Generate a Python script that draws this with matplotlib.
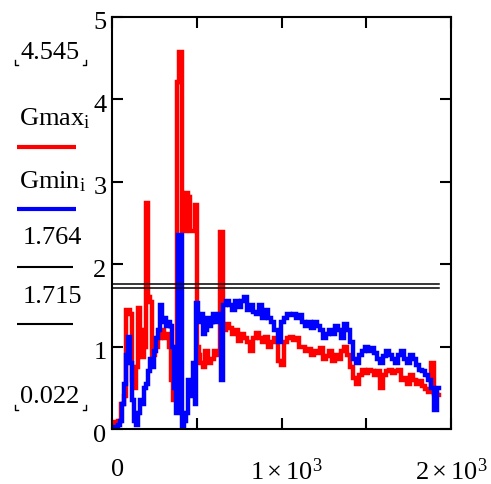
import numpy as np
import matplotlib
matplotlib.use("Agg")
import matplotlib.pyplot as plt
from matplotlib.lines import Line2D
import matplotlib.transforms as mtrans

plt.rcParams['font.family'] = ['Liberation Serif', 'DejaVu Serif']
plt.rcParams['mathtext.fontset'] = 'custom'
plt.rcParams['mathtext.rm'] = 'Liberation Serif'
plt.rcParams['mathtext.it'] = 'Liberation Serif:italic'

# ---------------- data (index i vs value) ----------------
# early, irregular part
gmax_idx_early = [0, 24, 47, 59, 77, 89, 101, 113, 125, 136, 148, 160, 172, 184, 196, 208, 220,
                  231, 243, 261, 279, 297, 315, 332, 344, 356, 368, 380, 386, 404, 427, 445,
                  457, 469, 481, 493, 505, 516, 528, 540, 558, 576, 593, 611, 629, 647]
gmax_val_early = [0.07, 0.08, 0.10, 0.30, 0.40, 1.44, 1.44, 1.40, 0.60, 0.50, 0.75, 1.47, 1.20,
                  0.87, 1.00, 2.74, 1.60, 1.54, 0.90, 1.00, 1.10, 1.20, 1.10, 1.15, 1.00, 0.60,
                  0.35, 0.80, 4.21, 4.57, 2.40, 2.86, 2.82, 2.40, 2.40, 2.72, 1.00, 0.90, 0.80,
                  0.75, 0.95, 0.80, 0.85, 0.95, 0.90, 2.39]

gmin_idx_early = [0, 24, 42, 53, 65, 77, 89, 101, 113, 125, 136, 148, 160, 172, 184, 196, 208,
                  220, 231, 243, 255, 267, 279, 291, 303, 315, 326, 338, 350, 362, 374, 386,
                  398, 410, 421, 433, 445, 457, 469, 481, 493, 504, 516, 528, 540, 552, 564,
                  576, 588, 599, 611, 623, 635, 647]
gmin_val_early = [0.02, 0.03, 0.05, 0.10, 0.30, 0.55, 0.90, 1.12, 0.80, 0.35, 0.10, 0.05, 0.20,
                  0.35, 0.30, 0.50, 0.55, 0.70, 0.85, 0.75, 0.95, 1.10, 1.20, 1.50, 1.30, 1.35,
                  1.25, 1.30, 1.25, 1.00, 0.50, 0.20, 2.35, 2.35, 0.02, 0.10, 0.20, 0.60, 0.40,
                  0.80, 0.30, 1.53, 1.30, 1.40, 1.15, 1.20, 1.35, 1.25, 1.30, 1.40, 1.30, 1.35,
                  1.40, 0.60]

# later part, regular index step
late_start = 665
late_step = 17.8
gmax_val_late = [1.20, 1.28, 1.22, 1.15, 1.20, 1.07, 1.15, 1.10, 1.05, 0.95, 1.10, 1.17, 1.10,
                 1.05, 1.12, 1.00, 1.05, 1.10, 0.82, 0.78, 1.05, 1.10, 1.12, 1.08, 1.10, 1.00,
                 1.00, 0.95, 0.97, 0.90, 0.95, 0.92, 0.98, 0.85, 0.88, 0.95, 0.82, 0.90, 0.85,
                 0.95, 1.00, 0.90, 0.75, 0.62, 0.55, 0.65, 0.72, 0.68, 0.72, 0.70, 0.65, 0.70,
                 0.50, 0.65, 0.70, 0.72, 0.68, 0.70, 0.72, 0.60, 0.62, 0.55, 0.65, 0.60, 0.55,
                 0.58, 0.52, 0.48, 0.45, 0.80, 0.43, 0.41]
gmin_val_late = [1.50, 1.55, 1.50, 1.45, 1.55, 1.48, 1.55, 1.60, 1.45, 1.50, 1.42, 1.40, 1.50,
                 1.35, 1.45, 1.35, 1.30, 1.20, 1.05, 1.30, 1.35, 1.40, 1.38, 1.40, 1.35, 1.38,
                 1.30, 1.25, 1.30, 1.22, 1.30, 1.25, 1.20, 1.10, 1.15, 1.20, 1.15, 1.25, 1.20,
                 1.10, 1.28, 1.20, 1.05, 0.85, 0.80, 0.90, 0.95, 1.00, 0.95, 0.98, 0.92, 0.85,
                 0.80, 0.88, 0.95, 0.90, 0.85, 0.80, 0.90, 0.95, 0.85, 0.80, 0.90, 0.85, 0.78,
                 0.72, 0.70, 0.65, 0.60, 0.50, 0.23, 0.50]

level_hi = 1.764
level_lo = 1.715
gmax_peak = 4.545
gmin_floor = 0.022

x_ticks = [0, 500, 1000, 1500, 2000]
y_ticks = [0, 1, 2, 3, 4, 5]
y_ticklabels = ['0', '1', '2', '3', '4', '5']

late_idx_max = late_start + late_step * np.arange(len(gmax_val_late))
late_idx_min = late_start + late_step * np.arange(len(gmin_val_late))
gmax_idx = np.concatenate([gmax_idx_early, late_idx_max])
gmax = np.concatenate([gmax_val_early, gmax_val_late])
gmin_idx = np.concatenate([gmin_idx_early, late_idx_min])
gmin = np.concatenate([gmin_val_early, gmin_val_late])

# ---------------- figure ----------------
W, H = 491, 484
fig = plt.figure(figsize=(W / 100, H / 100), dpi=100)
ax = fig.add_axes([112 / W, 1 - 429 / H, (451 - 112) / W, (429 - 17) / H])

ax.plot(gmax_idx, gmax, color='#ff0000', lw=3.2, drawstyle='steps-mid', solid_joinstyle='miter')
ax.plot(gmin_idx, gmin, color='#0000ff', lw=3.2, drawstyle='steps-mid', solid_joinstyle='miter')
xend = max(gmax_idx.max(), gmin_idx.max())
ax.plot([0, xend], [level_hi, level_hi], color='black', lw=1.1)
ax.plot([0, xend], [level_lo, level_lo], color='black', lw=1.1)

ax.set_xlim(0, 2000)
ax.set_ylim(0, 5)
for s in ax.spines.values():
    s.set_linewidth(1.5)
    s.set_color('black')

ax.set_xticks(x_ticks)
ax.set_xticklabels([])
ax.set_yticks(y_ticks)
ax.set_yticklabels(y_ticklabels)
ax.tick_params(axis='both', direction='in', length=8, width=1.5, colors='black',
               top=True, right=True, labelsize=19)
ax.tick_params(axis='y', pad=4)
off = mtrans.ScaledTranslation(0, -0.04, fig.dpi_scale_trans)
for lab in ax.get_yticklabels():
    lab.set_transform(lab.get_transform() + off)

# x tick labels (Mathcad style)
xt = ax.get_xaxis_transform()
ypos = -(470 - 429) / (429 - 17)
ax.text(30, ypos, '0', transform=xt, ha='center', va='center', fontsize=19)
ax.text(1030, ypos - 0.005, r'$1\times10^{3}$', transform=xt, ha='center', va='center', fontsize=19)
ax.text(2000, ypos - 0.005, r'$2\times10^{3}$', transform=xt, ha='center', va='center', fontsize=19)

# ---------------- left-side legend (Mathcad) ----------------
def fx(px):
    return px / W

def fy(py):
    return 1 - py / H

fs = 19
fig.text(fx(50), fy(53), f'{gmax_peak:.3f}', ha='center', va='center', fontsize=fs)
fig.text(fx(55), fy(119), r'$\mathrm{Gmax}_{\mathrm{i}}$', ha='center', va='center', fontsize=fs)
fig.text(fx(53), fy(182), r'$\mathrm{Gmin}_{\mathrm{i}}$', ha='center', va='center', fontsize=fs)
fig.text(fx(52), fy(238), f'{level_hi:.3f}', ha='center', va='center', fontsize=fs)
fig.text(fx(52), fy(297), f'{level_lo:.3f}', ha='center', va='center', fontsize=fs)
fig.text(fx(50), fy(397), f'{gmin_floor:.3f}', ha='center', va='center', fontsize=fs)

def hline(x0, x1, y, color, lw):
    fig.add_artist(Line2D([fx(x0), fx(x1)], [fy(y), fy(y)], color=color, lw=lw,
                          transform=fig.transFigure, solid_capstyle='butt'))

hline(17, 76, 147, '#ff0000', 3.0)
hline(17, 76, 209, '#0000ff', 3.0)
hline(17, 73, 267, 'black', 1.5)
hline(17, 73, 324, 'black', 1.5)

def corners(y_top, y_bot):
    for (xa, xb) in [(15, 18), (86, 83)]:
        fig.add_artist(Line2D([fx(xa), fx(xa), fx(xb)], [fy(y_top), fy(y_bot), fy(y_bot)],
                              color='black', lw=1.0, transform=fig.transFigure))

corners(60, 65)
corners(405, 410)

fig.savefig('out.png', dpi=100)
